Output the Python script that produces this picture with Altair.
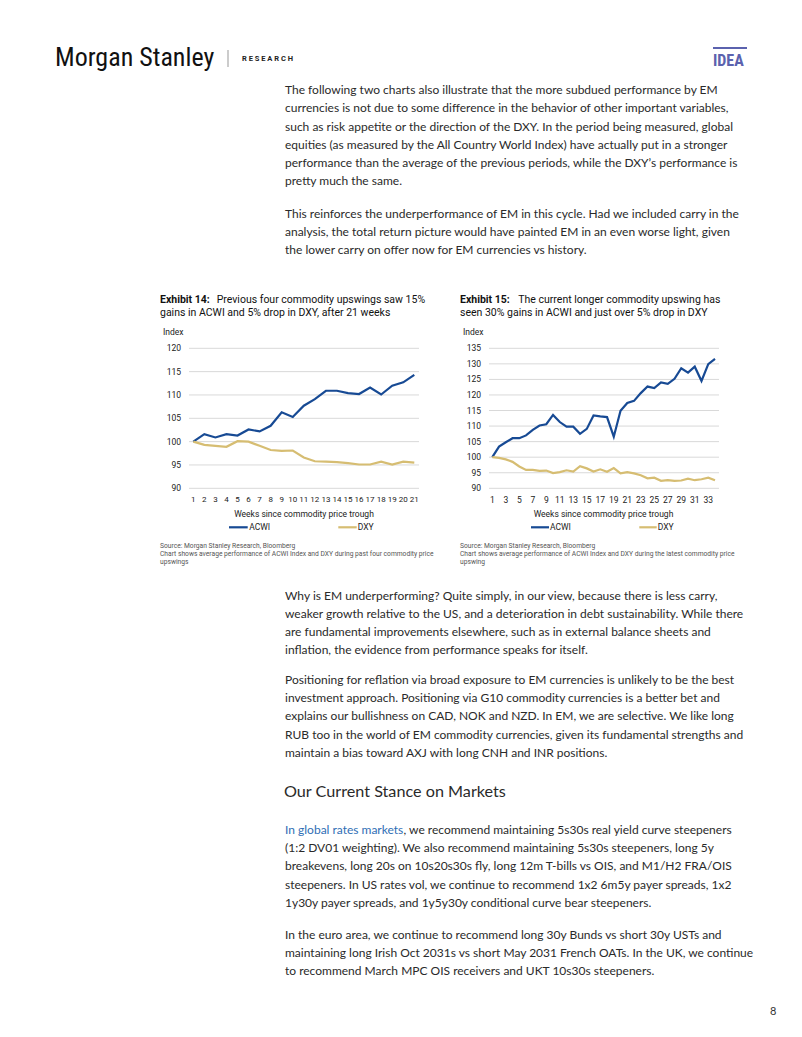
import altair as alt
import pandas as pd

# ---------------- data ----------------
weeks14 = list(range(1, 22))
acwi14 = [100.0, 101.6, 100.9, 101.6, 101.3, 102.6, 102.2, 103.4, 106.3, 105.3, 107.7,
          109.1, 110.9, 110.9, 110.4, 110.2, 111.6, 110.1, 112.0, 112.7, 114.3]
dxy14 = [100.0, 99.3, 99.1, 98.9, 100.1, 100.0, 99.1, 98.2, 98.0, 98.1, 96.6,
         95.8, 95.7, 95.6, 95.4, 95.1, 95.1, 95.7, 95.1, 95.7, 95.5]

weeks15 = list(range(1, 35))
acwi15 = [100.0, 103.4, 104.8, 106.1, 106.1, 107.0, 108.8, 110.2, 110.6, 113.6, 111.3,
          109.8, 109.8, 107.5, 109.1, 113.4, 113.1, 112.9, 106.6, 114.9, 117.4, 118.1,
          120.6, 122.7, 122.2, 124.0, 123.6, 125.2, 128.6, 127.2, 129.1, 124.5, 129.9, 131.6]
dxy15 = [100.0, 99.8, 99.3, 98.5, 97.0, 95.9, 95.9, 95.6, 95.7, 94.9, 95.2,
         95.8, 95.4, 97.1, 96.4, 95.4, 96.1, 95.3, 96.5, 94.8, 95.2, 94.8,
         94.2, 93.2, 93.4, 92.4, 92.6, 92.4, 92.5, 93.1, 92.6, 92.9, 93.4, 92.6]

series_names = ["ACWI", "DXY"]
yticks14 = [90, 95, 100, 105, 110, 115, 120]
yticks15 = [90, 95, 100, 105, 110, 115, 120, 125, 130, 135]
xticks14 = list(range(1, 22))
xticks15 = list(range(1, 35, 2))

title14 = ["Previous four commodity upswings saw 15%",
           "gains in ACWI and 5% drop in DXY, after 21 weeks"]
title15 = ["The current longer commodity upswing has",
           "seen 30% gains in ACWI and just over 5% drop in DXY"]
source14 = ["Source: Morgan Stanley Research, Bloomberg",
            "Chart shows average performance of ACWI Index and DXY during past four commodity price",
            "upswings"]
source15 = ["Source: Morgan Stanley Research, Bloomberg",
            "Chart shows average performance of ACWI Index and DXY during the latest commodity price",
            "upswing"]
xtitle = "Weeks since commodity price trough"

para1 = ["The following two charts also illustrate that the more subdued performance by EM",
         "currencies is not due to some difference in the behavior of other important variables,",
         "such as risk appetite or the direction of the DXY. In the period being measured, global",
         "equities (as measured by the All Country World Index) have actually put in a stronger",
         "performance than the average of the previous periods, while the DXY\u2019s performance is",
         "pretty much the same."]
para2 = ["This reinforces the underperformance of EM in this cycle. Had we included carry in the",
         "analysis, the total return picture would have painted EM in an even worse light, given",
         "the lower carry on offer now for EM currencies vs history."]
para3 = ["Why is EM underperforming? Quite simply, in our view, because there is less carry,",
         "weaker growth relative to the US, and a deterioration in debt sustainability. While there",
         "are fundamental improvements elsewhere, such as in external balance sheets and",
         "inflation, the evidence from performance speaks for itself."]
para4 = ["Positioning for reflation via broad exposure to EM currencies is unlikely to be the best",
         "investment approach. Positioning via G10 commodity currencies is a better bet and",
         "explains our bullishness on CAD, NOK and NZD. In EM, we are selective. We like long",
         "RUB too in the world of EM commodity currencies, given its fundamental strengths and",
         "maintain a bias toward AXJ with long CNH and INR positions."]
heading = "Our Current Stance on Markets"
para5_link = "In global rates markets"
para5_first_rest = ", we recommend maintaining 5s30s real yield curve steepeners"
para5 = ["(1:2 DV01 weighting). We also recommend maintaining 5s30s steepeners, long 5y",
         "breakevens, long 20s on 10s20s30s fly, long 12m T-bills vs OIS, and M1/H2 FRA/OIS",
         "steepeners. In US rates vol, we continue to recommend 1x2 6m5y payer spreads, 1x2",
         "1y30y payer spreads, and 1y5y30y conditional curve bear steepeners."]
para6 = ["In the euro area, we continue to recommend long 30y Bunds vs short 30y USTs and",
         "maintaining long Irish Oct 2031s vs short May 2031 French OATs. In the UK, we continue",
         "to recommend March MPC OIS receivers and UKT 10s30s steepeners."]

# ---------------- style ----------------
OFF = 8
BODY = "Lato"
BODY_SIZE = 12.0
CHARTF = "Roboto"
BLUE = "#174A94"
TAN = "#D6BD72"
GRID = "#D9D9D9"
TXT = "#2a2a2a"
LINK = "#2F6EB5"
PURPLE = "#5B62AE"
LH = 18.2


def P(v):
    return v - OFF


def dummy():
    return pd.DataFrame({"a": [0]})


def text_lines(lines, x, y0, dy=LH, size=BODY_SIZE, color=TXT, weight="normal",
               font=BODY, align="left"):
    df = pd.DataFrame({"t": lines,
                       "x": [P(x)] * len(lines),
                       "y": [P(y0 + i * dy) for i in range(len(lines))]})
    return alt.Chart(df).mark_text(align=align, baseline="middle", font=font,
                                   fontSize=size, color=color, fontWeight=weight).encode(
        x=alt.X("x:Q", scale=None, axis=None),
        y=alt.Y("y:Q", scale=None, axis=None),
        text="t:N")


def rule(x1, x2, y1, y2, color, width):
    return alt.Chart(dummy()).mark_rule(color=color, strokeWidth=width).encode(
        x=alt.value(P(x1)), x2=alt.value(P(x2)), y=alt.value(P(y1)), y2=alt.value(P(y2)))


def exhibit(num, weeks, acwi, dxy, yticks, xticks, titles, sources,
            left, grid_l, grid_r, x_first, x_last, ymin, ymax,
            title_rest_x, xtitle_c, leg, xlab_size):
    xs = alt.Scale(domain=[weeks[0], weeks[-1]], range=[P(x_first), P(x_last)],
                   nice=False, zero=False)
    ys = alt.Scale(domain=[ymin, ymax], range=[P(488.3), P(348.3)], nice=False, zero=False)
    layers = []
    # gridlines
    layers.append(alt.Chart(pd.DataFrame({"v": yticks})).mark_rule(color=GRID, strokeWidth=1).encode(
        y=alt.Y("v:Q", scale=ys, axis=None), x=alt.value(P(grid_l)), x2=alt.value(P(grid_r))))
    # y labels
    layers.append(alt.Chart(pd.DataFrame({"v": yticks})).mark_text(
        align="right", baseline="middle", font=CHARTF, fontSize=8.5, color="#222").encode(
        y=alt.Y("v:Q", scale=ys, axis=None), x=alt.value(P(grid_l - 8)), text="v:Q"))
    # x labels
    layers.append(alt.Chart(pd.DataFrame({"w": xticks})).mark_text(
        align="center", baseline="middle", font=CHARTF, fontSize=xlab_size, color="#222").encode(
        x=alt.X("w:Q", scale=xs, axis=None), y=alt.value(P(500)), text="w:Q"))
    # lines
    df = pd.DataFrame({"week": weeks * 2, "value": acwi + dxy,
                       "series": [series_names[0]] * len(weeks) + [series_names[1]] * len(weeks)})
    layers.append(alt.Chart(df).mark_line(strokeWidth=2.2).encode(
        x=alt.X("week:Q", scale=xs, axis=None),
        y=alt.Y("value:Q", scale=ys, axis=None),
        color=alt.Color("series:N", scale=alt.Scale(domain=series_names, range=[BLUE, TAN]),
                        legend=None)))
    # title
    layers.append(text_lines(["Exhibit %d:" % num], left, 300, size=10.5, color="#111",
                             weight="bold", font=CHARTF))
    layers.append(text_lines([titles[0]], title_rest_x, 300, size=10.5, color="#111", font=CHARTF))
    layers.append(text_lines([titles[1]], left, 313.3, size=10.5, color="#111", font=CHARTF))
    layers.append(text_lines(["Index"], left + 3, 332.3, size=8.5, color="#222", font=CHARTF))
    # x title
    layers.append(text_lines([xtitle], xtitle_c, 513.7, size=8.5, color="#222", font=CHARTF,
                             align="center"))
    # legend
    (a1, a2, at, d1, d2, dt) = leg
    layers.append(rule(a1, a2, 527.3, 527.3, BLUE, 2.2))
    layers.append(rule(d1, d2, 527.3, 527.3, TAN, 2.2))
    layers.append(text_lines([series_names[0]], at, 527.3, size=8.5, color="#222", font=CHARTF))
    layers.append(text_lines([series_names[1]], dt, 527.3, size=8.5, color="#222", font=CHARTF))
    # source
    layers.append(text_lines(sources, left, 545.7, dy=8.0, size=6.7, color="#555", font=CHARTF))
    return layers


layers = []
# header
layers.append(text_lines(["Morgan Stanley"], 55, 58, size=26,
                         color="#111", font="Liberation Sans Narrow, Roboto Condensed, Roboto"))
layers.append(rule(228, 228, 50, 67, "#999999", 1))
layers.append(text_lines(["R E S E A R C H"], 242, 59, size=7.5, color="#222", weight="bold",
                         font=CHARTF))
layers.append(rule(713, 747, 48, 48, PURPLE, 2))
layers.append(text_lines(["IDEA"], 713, 61, size=16, color=PURPLE, weight="bold",
                         font="Liberation Sans Narrow, Roboto Condensed, Roboto"))

# body text
layers.append(text_lines(para1, 285, 90.2))
layers.append(text_lines(para2, 285, 213.5))
layers.append(text_lines(para3, 285, 595.5))
layers.append(text_lines(para4, 285, 680))
layers.append(text_lines([heading], 284, 791.7, size=16.2))
layers.append(text_lines([para5_link], 285, 830, color=LINK))
layers.append(text_lines([para5_first_rest], 403.5, 830))
layers.append(text_lines(para5, 285, 830 + LH))
layers.append(text_lines(para6, 285, 935))
layers.append(text_lines(["8"], 770, 1012, size=11, color="#333"))

# exhibits
layers += exhibit(14, weeks14, acwi14, dxy14, yticks14, xticks14, title14, source14,
                  left=160, grid_l=189, grid_r=419, x_first=193.3, x_last=414.3,
                  ymin=90, ymax=120, title_rest_x=216.7, xtitle_c=304,
                  leg=(229, 247.7, 249.3, 338.3, 356.7, 357.7), xlab_size=8)
layers += exhibit(15, weeks15, acwi15, dxy15, yticks15, xticks15, title15, source15,
                  left=460, grid_l=489, grid_r=719, x_first=492.3, x_last=715,
                  ymin=90, ymax=135, title_rest_x=518.3, xtitle_c=603.5,
                  leg=(531, 549, 550, 639.3, 656.7, 657.7), xlab_size=8.5)

chart = alt.layer(*layers).resolve_scale(
    x="independent", y="independent", color="independent"
).properties(
    width=786, height=1021, padding=0,
    autosize=alt.AutoSizeParams(type="none"), background="white"
).configure_view(stroke=None)

chart.save("out.html", embed_options={"renderer": "svg", "actions": False})
